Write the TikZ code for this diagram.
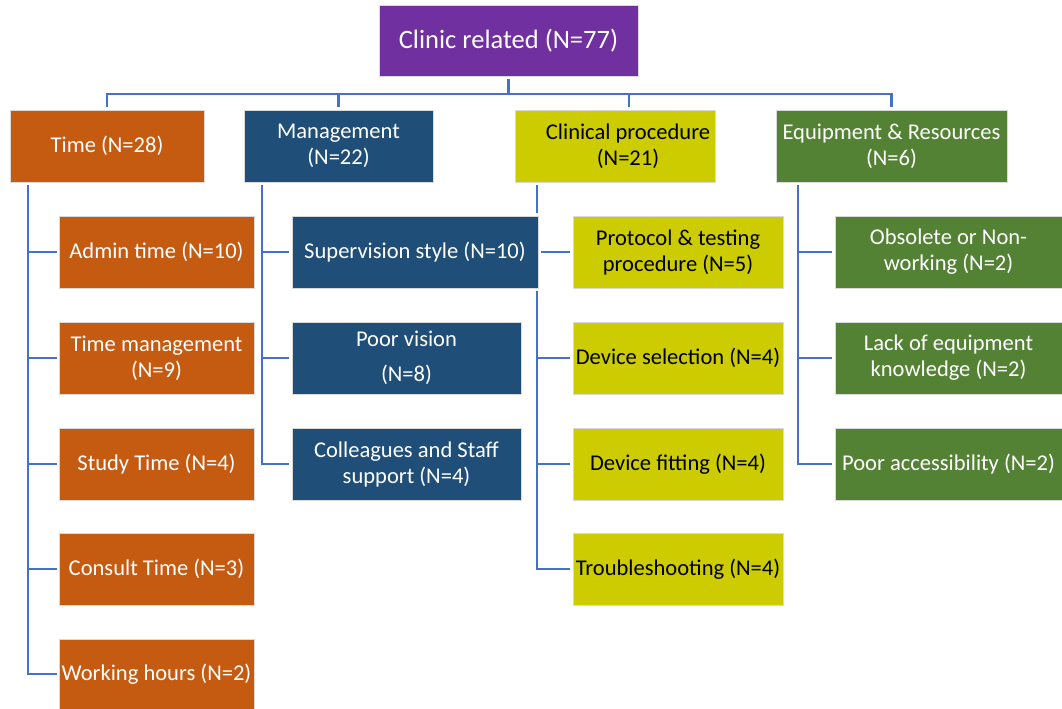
\documentclass[tikz,border=0pt]{standalone}
\usepackage{fontspec}
\setmainfont{Carlito}
\usetikzlibrary{calc}
\definecolor{cpurple}{HTML}{7030A0}
\definecolor{corange}{HTML}{C55A11}
\definecolor{cblue}{HTML}{1F4E79}
\definecolor{cyellow}{HTML}{CCCC00}
\definecolor{cgreen}{HTML}{548235}
\definecolor{cline}{HTML}{4472C4}
\begin{document}
\begin{tikzpicture}[x=0.75pt,y=-0.75pt,
  box/.style={rectangle, draw=white!85!black, line width=0.5pt, text=white, align=center, inner sep=0pt,
    font=\fontsize{16.9}{19.5}\selectfont, minimum height=54pt},
  ybox/.style={box, text=black},
  conn/.style={draw=cline, line width=1.6pt}]
\useasboundingbox (0,0) rectangle (1062,709);
% top
\node[box, fill=cpurple, minimum width=194.25pt, minimum height=53.25pt, font=\fontsize{19.9}{23}\selectfont] (top) at (508.5,40.5) {Clinic related (N=77)};
% level 1
\node[box, fill=corange, minimum width=145.5pt] (time) at (107,146) {Time (N=28)};
\node[box, fill=cblue, minimum width=141.75pt] (mgmt) at (338.5,146) {Management\\(N=22)};
\node[ybox, fill=cyellow, minimum width=150pt] (clin) at (615,146) {};
\node[text=black, align=center, inner sep=0pt, font=\fontsize{16.9}{19.5}\selectfont] (clintext) at (628,146) {Clinical procedure\\(N=21)};
\node[box, fill=cgreen, minimum width=173.25pt] (equip) at (891.5,146) {Equipment \& Resources\\(N=6)};
% time children
\node[box, fill=corange, minimum width=146.25pt] (t1) at (156.5,252) {Admin time (N=10)};
\node[box, fill=corange, minimum width=146.25pt] (t2) at (156.5,358) {Time management\\(N=9)};
\node[box, fill=corange, minimum width=146.25pt] (t3) at (156.5,464) {Study Time (N=4)};
\node[box, fill=corange, minimum width=146.25pt] (t4) at (156.5,569) {Consult Time (N=3)};
\node[box, fill=corange, minimum width=146.25pt, minimum height=52.5pt] (t5) at (156.5,674) {Working hours (N=2)};
% management children
\node[box, fill=cblue, minimum width=184.5pt] (m1) at (415,252) {Supervision style (N=10)};
\node[box, fill=cblue, minimum width=171.75pt] (m2) at (406.5,358) {Poor vision\\[7pt](N=8)};
\node[box, fill=cblue, minimum width=171.75pt] (m3) at (406.5,464) {Colleagues and Staff\\support (N=4)};
% clinical children
\node[ybox, fill=cyellow, minimum width=157.5pt] (c1) at (678,252) {Protocol \& testing\\procedure (N=5)};
\node[ybox, fill=cyellow, minimum width=157.5pt] (c2) at (678,358) {Device selection (N=4)};
\node[ybox, fill=cyellow, minimum width=157.5pt] (c3) at (678,464) {Device fitting (N=4)};
\node[ybox, fill=cyellow, minimum width=157.5pt] (c4) at (678,569) {Troubleshooting (N=4)};
% equipment children
\node[box, fill=cgreen, minimum width=170.25pt] (e1) at (948.5,252) {Obsolete or Non-\\working (N=2)};
\node[box, fill=cgreen, minimum width=170.25pt] (e2) at (948.5,358) {Lack of equipment\\knowledge (N=2)};
\node[box, fill=cgreen, minimum width=170.25pt] (e3) at (948.5,464) {Poor accessibility (N=2)};
% connectors
\coordinate (bus) at (508,94);
\coordinate (tx) at (28,0);
\coordinate (mx) at (262,0);
\coordinate (cx) at (537,0);
\coordinate (ex) at (798,0);
\coordinate (ctop) at (629,0);
\draw[conn] ($(top.south)+(0,3)$) -- (top.south |- bus);
\draw[conn] ($(time.north)+(0,-3)$) -- (time.north |- bus) -- (equip.north |- bus) -- ($(equip.north)+(0,-3)$);
\draw[conn] (mgmt.north |- bus) -- ($(mgmt.north)+(0,-3)$);
\draw[conn] (ctop |- bus) -- ($(clin.north -| ctop)+(0,-3)$);
% time branch
\draw[conn] ($(time.south -| tx)+(0,3)$) -- (tx |- t5) -- ($(t5.west)+(-2,0)$);
\foreach \n in {t1,t2,t3,t4} \draw[conn] (tx |- \n) -- ($(\n.west)+(-2,0)$);
% management branch
\draw[conn] ($(mgmt.south -| mx)+(0,3)$) -- (mx |- m3) -- ($(m3.west)+(-3,0)$);
\foreach \n in {m1,m2} \draw[conn] (mx |- \n) -- ($(\n.west)+(-3,0)$);
% clinical branch
\draw[conn] ($(clin.south -| cx)+(0,3)$) -- ($(m1.north -| cx)+(0,-3)$);
\draw[conn] ($(m1.south -| cx)+(0,3)$) -- (cx |- c4) -- ($(c4.west)+(-3,0)$);
\draw[conn] ($(m1.east)+(3,0)$) -- ($(c1.west)+(-3,0)$);
\foreach \n in {c2,c3} \draw[conn] (cx |- \n) -- ($(\n.west)+(-3,0)$);
% equipment branch
\draw[conn] ($(equip.south -| ex)+(0,3)$) -- (ex |- e3) -- ($(e3.west)+(-3,0)$);
\foreach \n in {e1,e2} \draw[conn] (ex |- \n) -- ($(\n.west)+(-3,0)$);
\end{tikzpicture}
\end{document}
